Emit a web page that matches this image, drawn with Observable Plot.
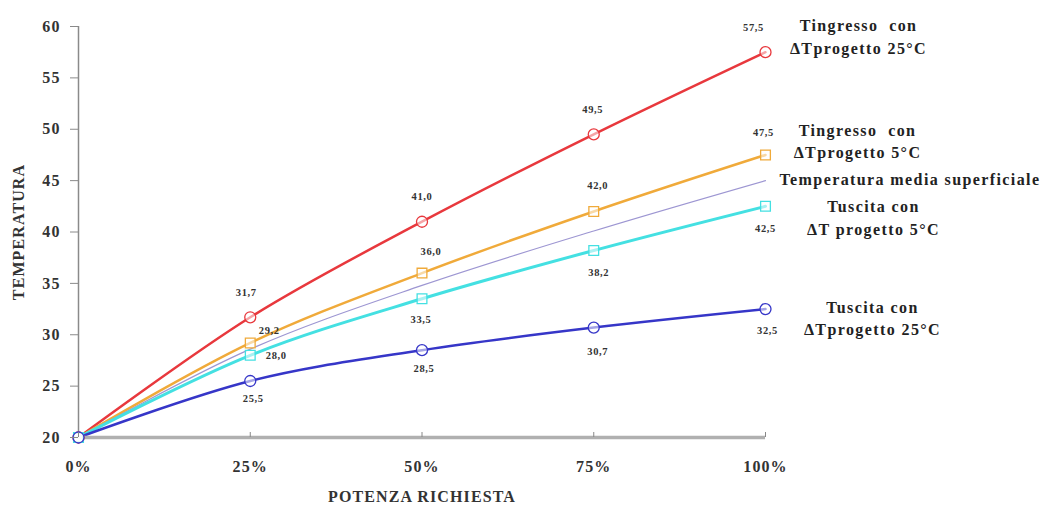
<!DOCTYPE html>
<html>
<head>
<meta charset="utf-8">
<script src="https://cdn.jsdelivr.net/npm/d3@7"></script>
<script src="https://cdn.jsdelivr.net/npm/@observablehq/plot@0.6"></script>
<style>
  html, body { margin: 0; padding: 0; background: #fff; }
  #chart svg { display: block; }
  #chart svg text { letter-spacing: 1.1px; }
  #chart svg g.names text { letter-spacing: 1.4px; }
  #chart svg g.vals text { letter-spacing: 0.6px; }
</style>
</head>
<body>
<div id="chart"></div>
<script>
// ---- data ----
const potenza = [0, 25, 50, 75, 100];            // % potenza richiesta
const xTickLabels = ["0%", "25%", "50%", "75%", "100%"];
const yTicks = [20, 25, 30, 35, 40, 45, 50, 55, 60];

const tIngresso25 = [20, 31.7, 41.0, 49.5, 57.5];
const tIngresso5  = [20, 29.2, 36.0, 42.0, 47.5];
const tMedia      = [20, 28.6, 34.8, 40.1, 45.0];
const tUscita5    = [20, 28.0, 33.5, 38.2, 42.5];
const tUscita25   = [20, 25.5, 28.5, 30.7, 32.5];

const seriesNames = [
  "Tingresso  con\n\u0394Tprogetto 25°C",
  "Tingresso  con\n\u0394Tprogetto 5°C",
  "Temperatura media superficiale",
  "Tuscita con\n\u0394T progetto 5°C",
  "Tuscita con\n\u0394Tprogetto 25°C"
];

// ---- styles ----
const serif = "'Liberation Serif', 'Times New Roman', serif";
const seriesStyle = [
  {values: tIngresso25, color: "#e8383d", width: 2.5, symbol: "circle", labels: true,
   off: [null, [-4,-25], [0,-25], [-1,-25], [-12,-25]], name: {dx: 93, dy: -17, anchor: "middle"}},
  {values: tIngresso5, color: "#f0aa3a", width: 2.5, symbol: "square", labels: true,
   off: [null, [19,-12], [9,-21], [4,-26], [-2,-22]], name: {dx: 92, dy: -15, anchor: "middle"}},
  {values: tMedia, color: "#9d96d2", width: 1.2, symbol: null, labels: false,
   off: null, name: {dx: 14, dy: -3, anchor: "start"}},
  {values: tUscita5, color: "#44e0e2", width: 3, symbol: "square", labels: true,
   off: [null, [26,0], [-1,21], [5,22], [0,22]], name: {dx: 108, dy: 10, anchor: "middle"}},
  {values: tUscita25, color: "#3636c8", width: 2.5, symbol: "circle", labels: true,
   off: [null, [3,18], [2,18], [4,24], [2,22]], name: {dx: 107, dy: 8, anchor: "middle"}}
];

const fmt = v => d3.format(".1f")(v).replace(".", ",");

const marks = [];

// axis lines
marks.push(Plot.ruleX([0], {stroke: "#8a8a8a", strokeWidth: 1.5}));

// lines
seriesStyle.forEach(s => {
  const rows = potenza.map((p, i) => ({x: p, y: s.values[i]}));
  marks.push(Plot.line(rows, {x: "x", y: "y", stroke: s.color, strokeWidth: s.width, curve: "catmull-rom"}));
});

marks.push(Plot.ruleY([20], {stroke: "#b0b0b0", strokeWidth: 3.5}));

// markers
seriesStyle.forEach(s => {
  if (!s.symbol) return;
  const rows = potenza.map((p, i) => ({x: p, y: s.values[i]}));
  marks.push(Plot.dot(rows, {x: "x", y: "y", symbol: s.symbol, r: 5.5,
    stroke: s.color, strokeWidth: 1.3, fill: "#ffffff", fillOpacity: 0.55}));
});

// value labels
seriesStyle.forEach(s => {
  if (!s.labels) return;
  potenza.forEach((p, i) => {
    if (i === 0) return;
    const [dx, dy] = s.off[i];
    marks.push(Plot.text([{x: p, y: s.values[i]}], {
      x: "x", y: "y", text: d => fmt(d.y), dx, dy, className: "vals",
      fontFamily: serif, fontSize: 10.5, fontWeight: "bold", fill: "#333"
    }));
  });
});

// series names at line ends
seriesStyle.forEach((s, k) => {
  const last = potenza.length - 1;
  marks.push(Plot.text([{x: potenza[last], y: s.values[last], t: seriesNames[k]}], {
    x: "x", y: "y", text: "t", dx: s.name.dx, dy: s.name.dy, textAnchor: s.name.anchor,
    lineAnchor: "middle", lineHeight: 1.4, className: "names",
    fontFamily: serif, fontSize: 16, fontWeight: "bold", fill: "#222"
  }));
});

// axes
marks.push(Plot.axisY({ticks: yTicks, tickSize: 8, tickPadding: 10, stroke: "#8a8a8a",
  fontFamily: serif, fontSize: 16, fontWeight: "bold", fill: "#333",
  label: "TEMPERATURA", labelAnchor: "center", labelArrow: "none", labelOffset: 66}));
marks.push(Plot.axisX({ticks: potenza, tickFormat: d => xTickLabels[potenza.indexOf(d)],
  tickSize: -5, tickPadding: 28, stroke: "#888",
  fontFamily: serif, fontSize: 16, fontWeight: "bold", fill: "#333",
  label: "POTENZA RICHIESTA", labelAnchor: "center", labelArrow: "none", labelOffset: 64}));

const chart = Plot.plot({
  width: 1053,
  height: 511,
  marginLeft: 78,
  marginRight: 288,
  marginTop: 26,
  marginBottom: 74,
  style: {background: "#fff", fontFamily: serif, overflow: "visible"},
  x: {domain: [0, 100]},
  y: {domain: [20, 60]},
  marks
});
document.getElementById("chart").appendChild(chart);
</script>
</body>
</html>
